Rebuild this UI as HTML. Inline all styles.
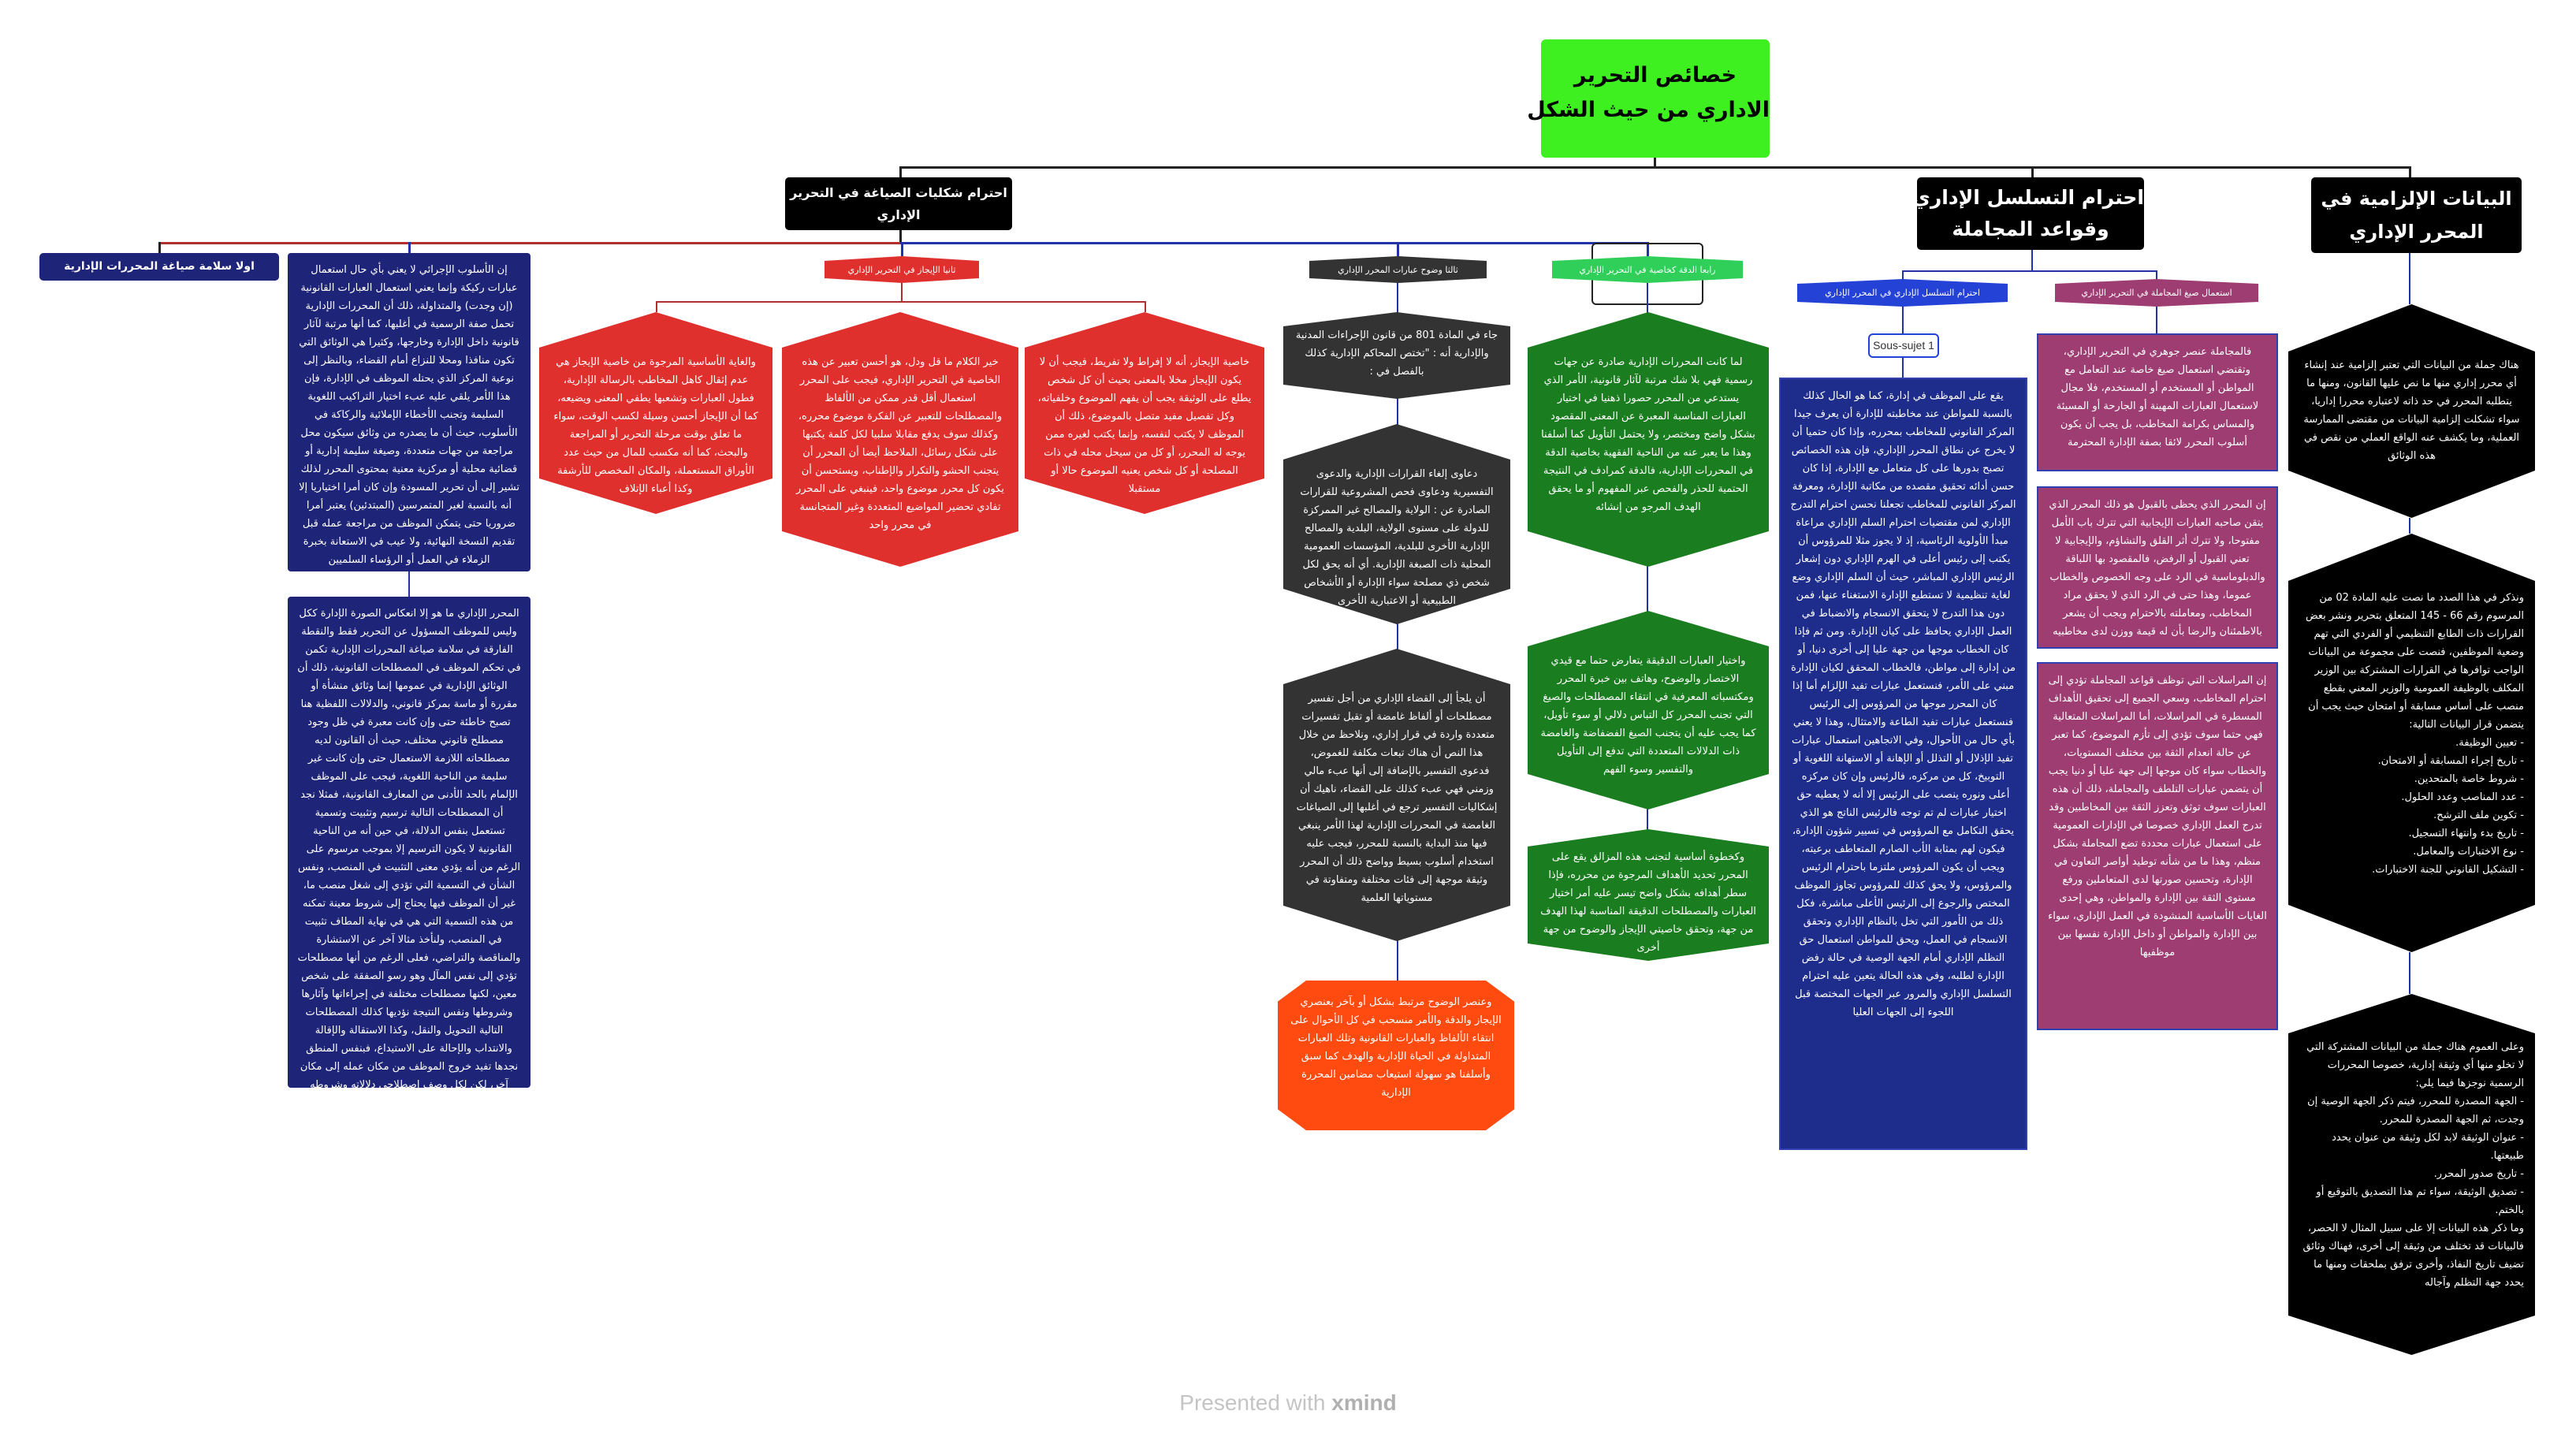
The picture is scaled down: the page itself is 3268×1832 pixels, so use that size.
<!DOCTYPE html>
<html><head><meta charset="utf-8">
<style>
body{margin:0;width:3268px;height:1832px;background:#fff;position:relative;overflow:hidden;font-family:"DejaVu Sans","Noto Sans CJK SC",sans-serif}
.a{position:absolute;box-sizing:border-box}
.l{position:absolute;background:#222}
.t{direction:rtl;color:#fff;font-size:13px;line-height:23px;overflow:hidden;letter-spacing:-0.3px}
.hex{clip-path:polygon(50% 0,100% 45px,100% calc(100% - 45px),50% 100%,0 calc(100% - 45px),0 45px);padding:52px 16px 40px;text-align:center}
.lab{clip-path:polygon(50% 0,100% 6px,100% calc(100% - 6px),50% 100%,0 calc(100% - 6px),0 6px);text-align:center;font-size:11px;line-height:35px;white-space:nowrap;letter-spacing:-0.5px}
.box{padding:10px 12px;text-align:right}
</style></head><body>

<!-- root -->
<div class="a" style="left:1955px;top:50px;width:290px;height:150px;background:#3ef01f;border-radius:6px;text-align:center;font-size:27px;line-height:44px;font-weight:bold;padding-top:24px;direction:rtl;white-space:nowrap">خصائص التحرير<br>الاداري من حيث الشكل</div>

<!-- main connectors -->
<div class="l" style="left:2098px;top:200px;width:3px;height:14px"></div>
<div class="l" style="left:1142px;top:211px;width:1917px;height:3px"></div>
<div class="l" style="left:1141px;top:211px;width:3px;height:15px"></div>
<div class="l" style="left:2577px;top:211px;width:3px;height:15px"></div>
<div class="l" style="left:3056px;top:211px;width:3px;height:15px"></div>

<!-- level 2 -->
<div class="a" style="left:996px;top:225px;width:288px;height:67px;background:#000;border-radius:5px;color:#fff;text-align:center;font-size:16px;line-height:28px;font-weight:bold;direction:rtl;padding-top:6px;white-space:nowrap">احترام شكليات الصياغة في التحرير<br>الإداري</div>
<div class="a" style="left:2432px;top:225px;width:288px;height:92px;background:#000;border-radius:5px;color:#fff;text-align:center;font-size:25px;line-height:40px;font-weight:bold;direction:rtl;padding-top:6px;white-space:nowrap">احترام التسلسل الإداري<br>وقواعد المجاملة</div>
<div class="a" style="left:2932px;top:225px;width:267px;height:96px;background:#000;border-radius:5px;color:#fff;text-align:center;font-size:24px;line-height:42px;font-weight:bold;direction:rtl;padding-top:6px;white-space:nowrap">البيانات الإلزامية في<br>المحرر الإداري</div>

<!-- level 3 connectors under شكليات -->
<div class="l" style="left:1141px;top:292px;width:3px;height:17px"></div>
<div class="l" style="left:202px;top:307px;width:940px;height:3px;background:#b03030"></div>
<div class="l" style="left:1142px;top:307px;width:948px;height:3px;background:#2233aa"></div>
<div class="l" style="left:201px;top:307px;width:3px;height:14px"></div>
<div class="l" style="left:518px;top:307px;width:3px;height:14px;background:#2233aa"></div>
<div class="l" style="left:1143px;top:307px;width:3px;height:18px;background:#2233aa"></div>
<div class="l" style="left:1772px;top:307px;width:3px;height:18px;background:#2233aa"></div>
<div class="l" style="left:2089px;top:307px;width:3px;height:18px;background:#2233aa"></div>
<div class="l" style="left:518px;top:725px;width:2px;height:32px;background:#2233aa"></div>

<div class="a t" style="left:50px;top:321px;width:304px;height:35px;background:#1e2477;border-radius:5px;text-align:center;font-size:14px;line-height:35px;font-weight:bold;white-space:nowrap">اولا سلامة صياغة المحررات الإدارية</div>

<div class="a t box" style="left:365px;top:321px;width:308px;height:404px;background:#1e2477;border-radius:4px;text-align:center">إن الأسلوب الإجرائي لا يعني بأي حال استعمال عبارات ركيكة وإنما يعني استعمال العبارات القانونية (إن وجدت) والمتداولة، ذلك أن المحررات الإدارية تحمل صفة الرسمية في أغلبها، كما أنها مرتبة لآثار قانونية داخل الإدارة وخارجها، وكثيرا هي الوثائق التي تكون منافذا ومحلا للنزاع أمام القضاء، وبالنظر إلى نوعية المركز الذي يحتله الموظف في الإدارة، فإن هذا الأمر يلقي عليه عبء اختيار التراكيب اللغوية السليمة وتجنب الأخطاء الإملائية والركاكة في الأسلوب، حيث أن ما يصدره من وثائق سيكون محل مراجعة من جهات متعددة، وصيغة سليمة إدارية أو قضائية محلية أو مركزية معنية بمحتوى المحرر لذلك تشير إلى أن تحرير المسودة وإن كان أمرا اختياريا إلا أنه بالنسبة لغير المتمرسين (المبتدئين) يعتبر أمرا ضروريا حتى يتمكن الموظف من مراجعة عمله قبل تقديم النسخة النهائية، ولا عيب في الاستعانة بخبرة الزملاء في العمل أو الرؤساء السلميين</div>

<div class="a t box" style="left:365px;top:757px;width:308px;height:623px;background:#1e2477;border-radius:4px;text-align:center">المحرر الإداري ما هو إلا انعكاس الصورة الإدارة ككل وليس للموظف المسؤول عن التحرير فقط والنقطة الفارقة في سلامة صياغة المحررات الإدارية تكمن في تحكم الموظف في المصطلحات القانونية، ذلك أن الوثائق الإدارية في عمومها إنما وثائق منشأة أو مقررة أو ماسة بمركز قانوني، والدلالات اللفظية هنا تصبح خاطئة حتى وإن كانت معبرة في ظل وجود مصطلح قانوني مختلف، حيث أن القانون لديه مصطلحاته اللازمة الاستعمال حتى وإن كانت غير سليمة من الناحية اللغوية، فيجب على الموظف الإلمام بالحد الأدنى من المعارف القانونية، فمثلا نجد أن المصطلحات التالية ترسيم وتثبيت وتسمية تستعمل بنفس الدلالة، في حين أنه من الناحية القانونية لا يكون الترسيم إلا بموجب مرسوم على الرغم من أنه يؤدي معنى التثبيت في المنصب، ونفس الشأن في التسمية التي تؤدي إلى شغل منصب ما، غير أن الموظف فيها يحتاج إلى شروط معينة تمكنه من هذه التسمية التي هي في نهاية المطاف تثبيت في المنصب، ولنأخذ مثالا آخر عن الاستشارة والمناقصة والتراضي، فعلى الرغم من أنها مصطلحات تؤدي إلى نفس المآل وهو رسو الصفقة على شخص معين، لكنها مصطلحات مختلفة في إجراءاتها وآثارها وشروطها ونفس النتيجة نؤديها كذلك المصطلحات التالية التحويل والنقل، وكذا الاستقالة والإقالة والانتداب والإحالة على الاستيداع، فبنفس المنطق نجدها تفيد خروج الموظف من مكان عمله إلى مكان آخر، لكن لكل وصف اصطلاحي دلالاته وشروطه ونتائجه</div>

<!-- red branch -->
<div class="a t lab" style="left:1046px;top:325px;width:196px;height:34px;background:#e0302e;border-radius:3px">ثانيا الإيجاز في التحرير الإداري</div>
<div class="l" style="left:1143px;top:359px;width:2px;height:24px;background:#b03030"></div>
<div class="l" style="left:832px;top:382px;width:622px;height:2px;background:#b03030"></div>
<div class="l" style="left:832px;top:382px;width:2px;height:14px;background:#b03030"></div>
<div class="l" style="left:1452px;top:382px;width:2px;height:14px;background:#b03030"></div>
<div class="a t hex" style="left:684px;top:396px;width:296px;height:256px;background:#e0302e">والغاية الأساسية المرجوة من خاصية الإيجاز هي عدم إثقال كاهل المخاطب بالرسالة الإدارية، فطول العبارات وتشعبها يطفي المعنى ويضيعه، كما أن الإيجاز أحسن وسيلة لكسب الوقت، سواء ما تعلق بوقت مرحلة التحرير أو المراجعة والبحث، كما أنه مكسب للمال من حيث عدد الأوراق المستعملة، والمكان المخصص للأرشفة وكذا أعباء الإتلاف</div>
<div class="a t hex" style="left:992px;top:396px;width:300px;height:323px;background:#e0302e">خير الكلام ما قل ودل، هو أحسن تعبير عن هذه الخاصية في التحرير الإداري، فيجب على المحرر استعمال أقل قدر ممكن من الألفاظ والمصطلحات للتعبير عن الفكرة موضوع محرره، وكذلك سوف يدفع مقابلا سلبيا لكل كلمة يكتبها على شكل رسائل، الملاحظ أيضا أن المحرر أن يتجنب الحشو والتكرار والإطناب، ويستحسن أن يكون كل محرر موضوع واحد، فينبغي على المحرر تفادي تحضير المواضيع المتعددة وغير المتجانسة في محرر واحد</div>
<div class="a t hex" style="left:1300px;top:396px;width:304px;height:256px;background:#e0302e">خاصية الإيجاز، أنه لا إفراط ولا تفريط، فيجب أن لا يكون الإيجاز مخلا بالمعنى بحيث أن كل شخص يطلع على الوثيقة يجب أن يفهم الموضوع وخلفياته، وكل تفصيل مفيد متصل بالموضوع، ذلك أن الموظف لا يكتب لنفسه، وإنما يكتب لغيره ممن يوجه له المحرر، أو كل من سيحل محله في ذات المصلحة أو كل شخص يعنيه الموضوع حالا أو مستقبلا</div>

<!-- gray branch -->
<div class="a t lab" style="left:1661px;top:325px;width:225px;height:34px;background:#333;border-radius:3px">ثالثا وضوح عبارات المحرر الإداري</div>
<div class="l" style="left:1772px;top:359px;width:2px;height:885px;background:#2233aa"></div>
<div class="a t hex" style="left:1628px;top:396px;width:288px;height:110px;background:#333;clip-path:polygon(50% 0,100% 18px,100% calc(100% - 18px),50% 100%,0 calc(100% - 18px),0 18px);padding:18px 14px">جاء في المادة 801 من قانون الإجراءات المدنية والإدارية أنه : "تختص المحاكم الإدارية كذلك بالفصل في :</div>
<div class="a t hex" style="left:1628px;top:538px;width:288px;height:254px;background:#333">دعاوى إلغاء القرارات الإدارية والدعوى التفسيرية ودعاوى فحص المشروعية للقرارات الصادرة عن : الولاية والمصالح غير الممركزة للدولة على مستوى الولاية، البلدية والمصالح الإدارية الأخرى للبلدية، المؤسسات العمومية المحلية ذات الصبغة الإدارية. أي أنه يحق لكل شخص ذي مصلحة سواء الإدارة أو الأشخاص الطبيعية أو الاعتبارية الأخرى</div>
<div class="a t hex" style="left:1628px;top:823px;width:288px;height:371px;background:#333">أن يلجأ إلى القضاء الإداري من أجل تفسير مصطلحات أو ألفاظ غامضة أو تقبل تفسيرات متعددة واردة في قرار إداري، ونلاحظ من خلال هذا النص أن هناك تبعات مكلفة للغموض، فدعوى التفسير بالإضافة إلى أنها عبء مالي وزمني فهي عبء كذلك على القضاء، ناهيك أن إشكاليات التفسير ترجع في أغلبها إلى الصياغات الغامضة في المحررات الإدارية لهذا الأمر ينبغي فيها منذ البداية بالنسبة للمحرر، فيجب عليه استخدام أسلوب بسيط وواضح ذلك أن المحرر وثيقة موجهة إلى فئات مختلفة ومتفاوتة في مستوياتها العلمية</div>
<div class="a t" style="left:1621px;top:1244px;width:300px;height:190px;background:#ff4a10;clip-path:polygon(12% 0,88% 0,100% 14%,100% 86%,88% 100%,12% 100%,0 86%,0 14%);padding:16px 14px;text-align:center">وعنصر الوضوح مرتبط بشكل أو بآخر بعنصري الإيجاز والدقة والأمر منسحب في كل الأحوال على انتقاء الألفاظ والعبارات القانونية وتلك العبارات المتداولة في الحياة الإدارية والهدف كما سبق وأسلفنا هو سهولة استيعاب مضامين المحررة الإدارية</div>

<!-- green branch -->
<div class="a" style="left:2019px;top:308px;width:142px;height:79px;border:2px solid #222;border-radius:6px"></div>
<div class="a t lab" style="left:1969px;top:325px;width:242px;height:34px;background:#2fcf5a;border-radius:3px">رابعا الدقة كخاصية في التحرير الإداري</div>
<div class="l" style="left:2089px;top:359px;width:2px;height:700px;background:#2233aa"></div>
<div class="a t hex" style="left:1938px;top:396px;width:306px;height:323px;background:#1a7d1f">لما كانت المحررات الإدارية صادرة عن جهات رسمية فهي بلا شك مرتبة لآثار قانونية، الأمر الذي يستدعي من المحرر حصورا ذهنيا في اختيار العبارات المناسبة المعبرة عن المعنى المقصود بشكل واضح ومختصر، ولا يحتمل التأويل كما أسلفنا وهذا ما يعبر عنه من الناحية الفقهية بخاصية الدقة في المحررات الإدارية، فالدقة كمرادف في النتيجة الحتمية للحذر والفحص عبر المفهوم أو ما يحقق الهدف المرجو من إنشائه</div>
<div class="a t hex" style="left:1938px;top:775px;width:306px;height:252px;background:#1a7d1f">واختيار العبارات الدقيقة يتعارض حتما مع قيدي الاختصار والوضوح، وهاتف بين خبرة المحرر ومكتسباته المعرفية في انتقاء المصطلحات والصيغ التي تجنب المحرر كل التباس دلالي أو سوء تأويل، كما يجب عليه أن يتجنب الصيغ الفضفاضة والغامضة ذات الدلالات المتعددة التي تدفع إلى التأويل والتفسير وسوء الفهم</div>
<div class="a t hex" style="left:1938px;top:1052px;width:306px;height:167px;background:#1a7d1f;clip-path:polygon(50% 0,100% 22px,100% calc(100% - 22px),50% 100%,0 calc(100% - 22px),0 22px);padding:24px 14px">وكخطوة أساسية لتجنب هذه المزالق يقع على المحرر تحديد الأهداف المرجوة من محرره، فإذا سطر أهدافه بشكل واضح تيسر عليه أمر اختيار العبارات والمصطلحات الدقيقة المناسبة لهذا الهدف من جهة، وتحقق خاصيتي الإيجاز والوضوح من جهة أخرى</div>

<!-- التسلسل branch -->
<div class="l" style="left:2577px;top:317px;width:2px;height:27px;background:#2233aa"></div>
<div class="l" style="left:2413px;top:343px;width:324px;height:2px;background:#2233aa"></div>
<div class="l" style="left:2413px;top:343px;width:2px;height:12px;background:#2233aa"></div>
<div class="l" style="left:2735px;top:343px;width:2px;height:12px;background:#2233aa"></div>
<div class="a t lab" style="left:2280px;top:354px;width:267px;height:35px;background:#2442d6;border-radius:3px">احترام التسلسل الإداري في المحرر الإداري</div>
<div class="a t lab" style="left:2607px;top:354px;width:258px;height:35px;background:#9e3d72;border-radius:3px">استعمال صيغ المجاملة في التحرير الإداري</div>
<div class="l" style="left:2413px;top:389px;width:2px;height:90px;background:#2233aa"></div>
<div class="l" style="left:2735px;top:389px;width:2px;height:34px;background:#2233aa"></div>
<div class="a" style="left:2370px;top:423px;width:90px;height:31px;background:#fff;border:2px solid #2442d6;border-radius:6px;font-family:'Liberation Sans',sans-serif;font-size:14px;line-height:27px;text-align:center;color:#333">Sous-sujet 1</div>
<div class="a t box" style="left:2257px;top:479px;width:315px;height:980px;background:#1e2d8c;border:2px solid #3040b0;text-align:center">يقع على الموظف في إدارة، كما هو الحال كذلك بالنسبة للمواطن عند مخاطبته للإدارة أن يعرف جيدا المركز القانوني للمخاطب بمحرره، وإذا كان حتميا أن لا يخرج عن نطاق المحرر الإداري، فإن هذه الخصائص تصبح بدورها على كل متعامل مع الإدارة، إذا كان حسن أدائه تحقيق مقصده من مكاتبة الإدارة، ومعرفة المركز القانوني للمخاطب تجعلنا نحسن احترام التدرج الإداري لمن مقتضيات احترام السلم الإداري مراعاة مبدأ الأولوية الرئاسية، إذ لا يجوز مثلا للمرؤوس أن يكتب إلى رئيس أعلى في الهرم الإداري دون إشعار الرئيس الإداري المباشر، حيث أن السلم الإداري وضع لغاية تنظيمية لا تستطيع الإدارة الاستغناء عنها، فمن دون هذا التدرج لا يتحقق الانسجام والانضباط في العمل الإداري يحافظ على كيان الإدارة. ومن ثم فإذا كان الخطاب موجها من جهة عليا إلى أخرى دنيا، أو من إدارة إلى مواطن، فالخطاب المحقق لكيان الإدارة مبني على الأمر، فنستعمل عبارات تفيد الإلزام أما إذا كان المحرر موجها من المرؤوس إلى الرئيس فنستعمل عبارات تفيد الطاعة والامتثال، وهذا لا يعني بأي حال من الأحوال، وفي الاتجاهين استعمال عبارات تفيد الإذلال أو التذلل أو الإهانة أو الاستهانة اللغوية أو التوبيخ، كل من مركزه، فالرئيس وإن كان مركزه أعلى ونوره ينصب على الرئيس إلا أنه لا يعطيه حق اختيار عبارات لم تم توجه فالرئيس الناتج هو الذي يحقق التكامل مع المرؤوس في تسيير شؤون الإدارة، فيكون لهم بمثابة الأب الصارم المتعاطف برعيته، ويجب أن يكون المرؤوس ملتزما باحترام الرئيس والمرؤوس، ولا يحق كذلك للمرؤوس تجاوز الموظف المختص والرجوع إلى الرئيس الأعلى مباشرة، فكل ذلك من الأمور التي تخل بالنظام الإداري وتحقق الانسجام في العمل، ويحق للمواطن استعمال حق التظلم الإداري أمام الجهة الوصية في حالة رفض الإدارة لطلبه، وفي هذه الحالة يتعين عليه احترام التسلسل الإداري والمرور عبر الجهات المختصة قبل اللجوء إلى الجهات العليا</div>

<div class="a t box" style="left:2584px;top:423px;width:306px;height:175px;background:#9e3d72;border:2px solid #3040b0;text-align:center">فالمجاملة عنصر جوهري في التحرير الإداري، وتقتضي استعمال صيغ خاصة عند التعامل مع المواطن أو المستخدم أو المستخدم، فلا مجال لاستعمال العبارات المهينة أو الجارحة أو المسيئة والمساس بكرامة المخاطب، بل يجب أن يكون أسلوب المحرر لائقا بصفة الإدارة المحترمة</div>
<div class="a t box" style="left:2584px;top:617px;width:306px;height:206px;background:#9e3d72;border:2px solid #3040b0;text-align:center">إن المحرر الذي يحظى بالقبول هو ذلك المحرر الذي يتقن صاحبه العبارات الإيجابية التي تترك باب الأمل مفتوحا، ولا تترك أثر القلق والتشاؤم، والإيجابية لا تعني القبول أو الرفض، فالمقصود بها اللباقة والدبلوماسية في الرد على وجه الخصوص والخطاب عموما، وهذا حتى في الرد الذي لا يحقق مراد المخاطب، ومعاملته بالاحترام ويجب أن يشعر بالاطمئنان والرضا بأن له قيمة ووزن لدى مخاطبيه</div>
<div class="a t box" style="left:2584px;top:840px;width:306px;height:467px;background:#9e3d72;border:2px solid #3040b0;text-align:center">إن المراسلات التي توظف قواعد المجاملة تؤدي إلى احترام المخاطب، وسعي الجميع إلى تحقيق الأهداف المسطرة في المراسلات، أما المراسلات المتعالية فهي حتما سوف تؤدي إلى تأزم الموضوع، كما تعبر عن حالة انعدام الثقة بين مختلف المستويات، والخطاب سواء كان موجها إلى جهة عليا أو دنيا يجب أن يتضمن عبارات التلطف والمجاملة، ذلك أن هذه العبارات سوف توثق وتعزز الثقة بين المخاطبين وقد تدرج العمل الإداري خصوصا في الإدارات العمومية على استعمال عبارات محددة تضع المجاملة بشكل منظم، وهذا ما من شأنه توطيد أواصر التعاون في الإدارة، وتحسين صورتها لدى المتعاملين ورفع مستوى الثقة بين الإدارة والمواطن، وهي إحدى الغايات الأساسية المنشودة في العمل الإداري، سواء بين الإدارة والمواطن أو داخل الإدارة نفسها بين موظفيها</div>

<!-- right black branch -->
<div class="l" style="left:3056px;top:321px;width:2px;height:65px;background:#2233aa"></div>
<div class="a t hex" style="left:2903px;top:386px;width:313px;height:271px;background:#000;clip-path:polygon(50% 0,100% 60px,100% calc(100% - 60px),50% 100%,0 calc(100% - 60px),0 60px);padding:66px 14px 40px">هناك جملة من البيانات التي تعتبر إلزامية عند إنشاء أي محرر إداري منها ما نص عليها القانون، ومنها ما يتطلبه المحرر في حد ذاته لاعتباره محررا إداريا، سواء تشكلت إلزامية البيانات من مقتضى الممارسة العملية، وما يكشف عنه الواقع العملي من نقص في هذه الوثائق</div>
<div class="l" style="left:3056px;top:657px;width:2px;height:20px;background:#2233aa"></div>
<div class="a t hex" style="left:2903px;top:677px;width:313px;height:531px;background:#000;clip-path:polygon(50% 0,100% 60px,100% calc(100% - 60px),50% 100%,0 calc(100% - 60px),0 60px);padding:70px 14px 60px;text-align:right">ونذكر في هذا الصدد ما نصت عليه المادة 02 من المرسوم رقم 66 - 145 المتعلق بتحرير ونشر بعض القرارات ذات الطابع التنظيمي أو الفردي التي تهم وضعية الموظفين، فنصت على مجموعة من البيانات الواجب توافرها في القرارات المشتركة بين الوزير المكلف بالوظيفة العمومية والوزير المعني بقطع منصب على أساس مسابقة أو امتحان حيث يجب أن يتضمن قرار البيانات التالية:<br>- تعيين الوظيفة.<br>- تاريخ إجراء المسابقة أو الامتحان.<br>- شروط خاصة بالمتحدين.<br>- عدد المناصب وعدد الحلول.<br>- تكوين ملف الترشح.<br>- تاريخ بدء وانتهاء التسجيل.<br>- نوع الاختبارات والمعامل.<br>- التشكيل القانوني للجنة الاختبارات.</div>
<div class="l" style="left:3056px;top:1208px;width:2px;height:53px;background:#2233aa"></div>
<div class="a t hex" style="left:2903px;top:1261px;width:313px;height:458px;background:#000;clip-path:polygon(50% 0,100% 50px,100% calc(100% - 50px),50% 100%,0 calc(100% - 50px),0 50px);padding:56px 14px 50px;text-align:right">وعلى العموم هناك جملة من البيانات المشتركة التي لا تخلو منها أي وثيقة إدارية، خصوصا المحررات الرسمية نوجزها فيما يلي:<br>- الجهة المصدرة للمحرر، فيتم ذكر الجهة الوصية إن وجدت، ثم الجهة المصدرة للمحرر.<br>- عنوان الوثيقة لابد لكل وثيقة من عنوان يحدد طبيعتها.<br>- تاريخ صدور المحرر.<br>- تصديق الوثيقة، سواء تم هذا التصديق بالتوقيع أو بالختم.<br>وما ذكر هذه البيانات إلا على سبيل المثال لا الحصر، فالبيانات قد تختلف من وثيقة إلى أخرى، فهناك وثائق تضيف تاريخ النفاذ، وأخرى ترفق بملحقات ومنها ما يحدد جهة التظلم وآجاله</div>

<div class="a" style="left:1434px;top:1764px;width:400px;text-align:center;font-family:'Liberation Sans',sans-serif;font-size:28px;color:#c4c4c4">Presented with <b style="color:#b0b0b0">xmind</b></div>
</body></html>
